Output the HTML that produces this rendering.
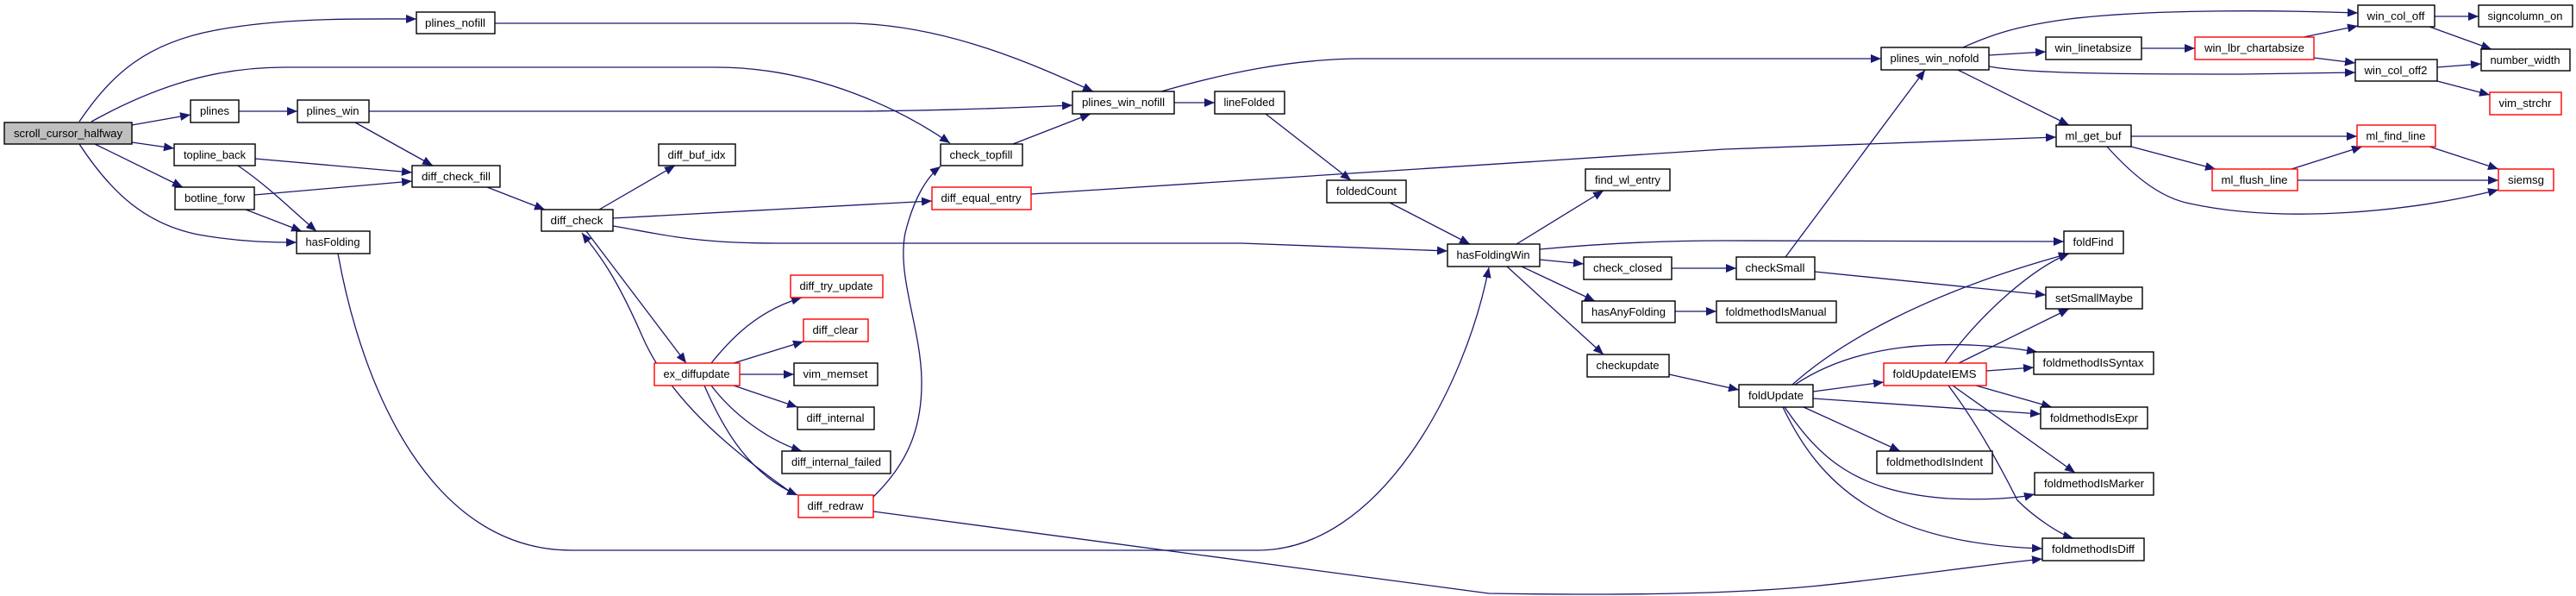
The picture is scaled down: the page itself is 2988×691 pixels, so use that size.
<!DOCTYPE html>
<html><head><meta charset="utf-8"><style>
html,body{margin:0;padding:0;background:#fff;}
svg{display:block;}
text{font-family:"Liberation Sans",sans-serif;font-size:13px;fill:#000;text-anchor:middle;}
.e{fill:none;stroke:#191970;stroke-width:1.3;marker-end:url(#a);}
.n{fill:#fff;stroke:#000;stroke-width:1.4;}
.r{fill:#fff;stroke:#ff0000;stroke-width:1.4;}
</style></head><body>
<svg width="2988" height="691" viewBox="0 0 2988 691" xmlns="http://www.w3.org/2000/svg">
<defs><marker id="a" markerUnits="userSpaceOnUse" markerWidth="13" markerHeight="10" refX="12" refY="5" orient="auto"><path d="M0,0 L12,5 L0,10 z" fill="#191970"/></marker></defs>
<g>
<path class="e" d="M92,141 C130,85 170,50 250,35 C330,20 420,22 483,22"/>
<path class="e" d="M106,141 C180,100 250,78 330,78 L830,78 C950,78 1050,130 1102,166"/>
<path class="e" d="M153,145 L221,133"/>
<path class="e" d="M153,165 L202,172"/>
<path class="e" d="M110,167 L212,217"/>
<path class="e" d="M92,167 C130,225 170,260 230,272 C280,281 320,281 344,281"/>
<path class="e" d="M277,129 L345,129"/>
<path class="e" d="M428,129 L1000,129 C1100,128 1200,124 1244,122"/>
<path class="e" d="M412,142 L502,192"/>
<path class="e" d="M574,27 L990,27 C1100,30 1200,75 1268,106"/>
<path class="e" d="M296,184 L478,200"/>
<path class="e" d="M276,192 C310,215 340,245 367,268"/>
<path class="e" d="M295,226 L478,210"/>
<path class="e" d="M285,243 L350,268"/>
<path class="e" d="M565,217 L632,243"/>
<path class="e" d="M695,243 L783,192"/>
<path class="e" d="M711,253 L1081,233"/>
<path class="e" d="M711,262 C760,270 800,282 900,282 L1440,282 L1679,291"/>
<path class="e" d="M680,268 L796,421"/>
<path class="e" d="M922,574 C860,530 780,470 745,390 C710,310 690,290 675,270"/>
<path class="e" d="M825,421 C850,390 880,360 930,345"/>
<path class="e" d="M851,421 L932,396"/>
<path class="e" d="M858,434 L921,434"/>
<path class="e" d="M851,447 L925,472"/>
<path class="e" d="M825,447 C850,480 890,510 930,523"/>
<path class="e" d="M817,447 C840,500 870,550 925,574"/>
<path class="e" d="M1013,576 C1050,540 1070,500 1069,440 C1068,380 1040,320 1050,270 C1060,230 1075,205 1091,193"/>
<path class="e" d="M1013,593 L1727,688 C1850,690 1990,690 2100,680 C2200,670 2300,655 2369,648"/>
<path class="e" d="M392,294 C420,450 500,638 663,638 L1459,638 C1600,638 1700,450 1727,310"/>
<path class="e" d="M1175,167 L1265,132"/>
<path class="e" d="M1196,225 L2000,173 L2385,159"/>
<path class="e" d="M1362,119 L1409,119"/>
<path class="e" d="M1347,106 C1420,85 1500,68 1580,68 L2000,68 L2182,68"/>
<path class="e" d="M1468,132 L1567,209"/>
<path class="e" d="M1612,235 L1705,283"/>
<path class="e" d="M1759,283 L1860,221"/>
<path class="e" d="M1786,289 C1850,283 1920,279 2000,279 L2394,280"/>
<path class="e" d="M1786,301 L1837,306"/>
<path class="e" d="M1765,309 L1850,349"/>
<path class="e" d="M1748,309 L1860,411"/>
<path class="e" d="M1939,311 L2014,311"/>
<path class="e" d="M1943,361 L1991,361"/>
<path class="e" d="M1936,434 L2017,452"/>
<path class="e" d="M2071,298 L2233,81"/>
<path class="e" d="M2105,315 L2373,342"/>
<path class="e" d="M2277,55 C2310,40 2340,30 2400,22 C2500,10 2650,12 2735,15"/>
<path class="e" d="M2307,64 L2373,60"/>
<path class="e" d="M2307,77 C2350,85 2450,86 2600,86 L2732,84"/>
<path class="e" d="M2271,81 L2400,145"/>
<path class="e" d="M2484,56 L2546,56"/>
<path class="e" d="M2672,43 L2735,30"/>
<path class="e" d="M2684,67 L2732,73"/>
<path class="e" d="M2824,19 L2875,19"/>
<path class="e" d="M2818,31 L2890,57"/>
<path class="e" d="M2827,78 L2878,74"/>
<path class="e" d="M2827,94 L2888,110"/>
<path class="e" d="M2472,158 L2734,158"/>
<path class="e" d="M2472,170 L2570,196"/>
<path class="e" d="M2444,170 C2480,210 2510,230 2540,236 C2650,260 2800,245 2898,220"/>
<path class="e" d="M2658,196 L2740,170"/>
<path class="e" d="M2665,209 L2898,209"/>
<path class="e" d="M2818,170 L2898,196"/>
<path class="e" d="M2079,446 C2130,400 2230,340 2400,294"/>
<path class="e" d="M2082,446 C2150,400 2250,390 2363,408"/>
<path class="e" d="M2103,454 L2185,443"/>
<path class="e" d="M2103,462 L2367,480"/>
<path class="e" d="M2092,472 L2204,523"/>
<path class="e" d="M2070,472 C2110,530 2150,570 2260,578 C2300,580 2340,578 2360,573"/>
<path class="e" d="M2068,472 C2110,560 2180,630 2369,636"/>
<path class="e" d="M2256,421 C2300,360 2360,310 2400,294"/>
<path class="e" d="M2272,421 L2400,358"/>
<path class="e" d="M2304,430 L2359,426"/>
<path class="e" d="M2292,447 L2380,472"/>
<path class="e" d="M2265,447 L2407,548"/>
<path class="e" d="M2260,447 C2300,500 2330,560 2340,580 C2360,600 2390,620 2405,624"/>
</g>
<g>
<rect x="5" y="142" width="148" height="25" fill="#bfbfbf" stroke="#000" stroke-width="1.4"/><text x="79" y="159" textLength="126" lengthAdjust="spacingAndGlyphs">scroll_cursor_halfway</text>
<rect class="n" x="483" y="14" width="91" height="25"/><text x="528" y="31" textLength="70" lengthAdjust="spacingAndGlyphs">plines_nofill</text>
<rect class="n" x="221" y="116" width="56" height="26"/><text x="249" y="133" textLength="34" lengthAdjust="spacingAndGlyphs">plines</text>
<rect class="n" x="345" y="116" width="83" height="26"/><text x="386" y="133" textLength="61" lengthAdjust="spacingAndGlyphs">plines_win</text>
<rect class="n" x="202" y="167" width="94" height="25"/><text x="249" y="184" textLength="72" lengthAdjust="spacingAndGlyphs">topline_back</text>
<rect class="n" x="203" y="217" width="92" height="26"/><text x="249" y="234" textLength="70" lengthAdjust="spacingAndGlyphs">botline_forw</text>
<rect class="n" x="478" y="192" width="102" height="25"/><text x="529" y="209" textLength="80" lengthAdjust="spacingAndGlyphs">diff_check_fill</text>
<rect class="n" x="344" y="268" width="85" height="26"/><text x="386" y="285" textLength="63" lengthAdjust="spacingAndGlyphs">hasFolding</text>
<rect class="n" x="764" y="167" width="89" height="25"/><text x="808" y="184" textLength="67" lengthAdjust="spacingAndGlyphs">diff_buf_idx</text>
<rect class="n" x="628" y="243" width="83" height="25"/><text x="669" y="260" textLength="61" lengthAdjust="spacingAndGlyphs">diff_check</text>
<rect class="r" x="917" y="319" width="107" height="26"/><text x="970" y="336" textLength="85" lengthAdjust="spacingAndGlyphs">diff_try_update</text>
<rect class="r" x="932" y="370" width="75" height="26"/><text x="969" y="387" textLength="53" lengthAdjust="spacingAndGlyphs">diff_clear</text>
<rect class="r" x="759" y="421" width="99" height="26"/><text x="808" y="438" textLength="77" lengthAdjust="spacingAndGlyphs">ex_diffupdate</text>
<rect class="n" x="921" y="421" width="97" height="26"/><text x="969" y="438" textLength="75" lengthAdjust="spacingAndGlyphs">vim_memset</text>
<rect class="n" x="925" y="472" width="89" height="26"/><text x="969" y="489" textLength="67" lengthAdjust="spacingAndGlyphs">diff_internal</text>
<rect class="n" x="907" y="523" width="126" height="26"/><text x="970" y="540" textLength="104" lengthAdjust="spacingAndGlyphs">diff_internal_failed</text>
<rect class="r" x="926" y="574" width="87" height="26"/><text x="969" y="591" textLength="65" lengthAdjust="spacingAndGlyphs">diff_redraw</text>
<rect class="n" x="1244" y="106" width="118" height="26"/><text x="1303" y="123" textLength="96" lengthAdjust="spacingAndGlyphs">plines_win_nofill</text>
<rect class="n" x="1409" y="106" width="81" height="26"/><text x="1449" y="123" textLength="59" lengthAdjust="spacingAndGlyphs">lineFolded</text>
<rect class="n" x="1091" y="167" width="95" height="25"/><text x="1138" y="184" textLength="73" lengthAdjust="spacingAndGlyphs">check_topfill</text>
<rect class="r" x="1081" y="217" width="115" height="26"/><text x="1138" y="234" textLength="93" lengthAdjust="spacingAndGlyphs">diff_equal_entry</text>
<rect class="n" x="1539" y="209" width="92" height="26"/><text x="1585" y="226" textLength="70" lengthAdjust="spacingAndGlyphs">foldedCount</text>
<rect class="n" x="1839" y="196" width="98" height="25"/><text x="1888" y="213" textLength="76" lengthAdjust="spacingAndGlyphs">find_wl_entry</text>
<rect class="n" x="1679" y="283" width="107" height="26"/><text x="1732" y="300" textLength="85" lengthAdjust="spacingAndGlyphs">hasFoldingWin</text>
<rect class="n" x="1837" y="298" width="102" height="26"/><text x="1888" y="315" textLength="80" lengthAdjust="spacingAndGlyphs">check_closed</text>
<rect class="n" x="1835" y="349" width="108" height="25"/><text x="1889" y="366" textLength="86" lengthAdjust="spacingAndGlyphs">hasAnyFolding</text>
<rect class="n" x="1841" y="411" width="95" height="26"/><text x="1888" y="428" textLength="73" lengthAdjust="spacingAndGlyphs">checkupdate</text>
<rect class="n" x="2182" y="55" width="125" height="26"/><text x="2244" y="72" textLength="103" lengthAdjust="spacingAndGlyphs">plines_win_nofold</text>
<rect class="n" x="2373" y="43" width="111" height="26"/><text x="2428" y="60" textLength="89" lengthAdjust="spacingAndGlyphs">win_linetabsize</text>
<rect class="r" x="2546" y="43" width="138" height="26"/><text x="2615" y="60" textLength="116" lengthAdjust="spacingAndGlyphs">win_lbr_chartabsize</text>
<rect class="n" x="2735" y="6" width="89" height="25"/><text x="2779" y="23" textLength="67" lengthAdjust="spacingAndGlyphs">win_col_off</text>
<rect class="n" x="2875" y="6" width="109" height="25"/><text x="2929" y="23" textLength="87" lengthAdjust="spacingAndGlyphs">signcolumn_on</text>
<rect class="n" x="2732" y="69" width="95" height="25"/><text x="2779" y="86" textLength="73" lengthAdjust="spacingAndGlyphs">win_col_off2</text>
<rect class="n" x="2878" y="57" width="103" height="25"/><text x="2929" y="74" textLength="81" lengthAdjust="spacingAndGlyphs">number_width</text>
<rect class="r" x="2888" y="107" width="83" height="26"/><text x="2929" y="124" textLength="61" lengthAdjust="spacingAndGlyphs">vim_strchr</text>
<rect class="n" x="2385" y="145" width="87" height="25"/><text x="2428" y="162" textLength="65" lengthAdjust="spacingAndGlyphs">ml_get_buf</text>
<rect class="r" x="2734" y="145" width="91" height="25"/><text x="2779" y="162" textLength="69" lengthAdjust="spacingAndGlyphs">ml_find_line</text>
<rect class="r" x="2566" y="196" width="99" height="25"/><text x="2615" y="213" textLength="77" lengthAdjust="spacingAndGlyphs">ml_flush_line</text>
<rect class="r" x="2898" y="196" width="64" height="25"/><text x="2930" y="213" textLength="42" lengthAdjust="spacingAndGlyphs">siemsg</text>
<rect class="n" x="2394" y="268" width="69" height="26"/><text x="2428" y="285" textLength="47" lengthAdjust="spacingAndGlyphs">foldFind</text>
<rect class="n" x="2014" y="298" width="91" height="26"/><text x="2059" y="315" textLength="69" lengthAdjust="spacingAndGlyphs">checkSmall</text>
<rect class="n" x="2373" y="333" width="112" height="25"/><text x="2429" y="350" textLength="90" lengthAdjust="spacingAndGlyphs">setSmallMaybe</text>
<rect class="n" x="1991" y="349" width="139" height="25"/><text x="2060" y="366" textLength="117" lengthAdjust="spacingAndGlyphs">foldmethodIsManual</text>
<rect class="n" x="2359" y="408" width="139" height="26"/><text x="2428" y="425" textLength="117" lengthAdjust="spacingAndGlyphs">foldmethodIsSyntax</text>
<rect class="r" x="2185" y="421" width="119" height="26"/><text x="2244" y="438" textLength="97" lengthAdjust="spacingAndGlyphs">foldUpdateIEMS</text>
<rect class="n" x="2017" y="446" width="86" height="26"/><text x="2060" y="463" textLength="64" lengthAdjust="spacingAndGlyphs">foldUpdate</text>
<rect class="n" x="2367" y="472" width="124" height="25"/><text x="2429" y="489" textLength="102" lengthAdjust="spacingAndGlyphs">foldmethodIsExpr</text>
<rect class="n" x="2177" y="523" width="134" height="26"/><text x="2244" y="540" textLength="112" lengthAdjust="spacingAndGlyphs">foldmethodIsIndent</text>
<rect class="n" x="2360" y="548" width="138" height="26"/><text x="2429" y="565" textLength="116" lengthAdjust="spacingAndGlyphs">foldmethodIsMarker</text>
<rect class="n" x="2369" y="624" width="118" height="26"/><text x="2428" y="641" textLength="96" lengthAdjust="spacingAndGlyphs">foldmethodIsDiff</text>
</g>
</svg>
</body></html>
